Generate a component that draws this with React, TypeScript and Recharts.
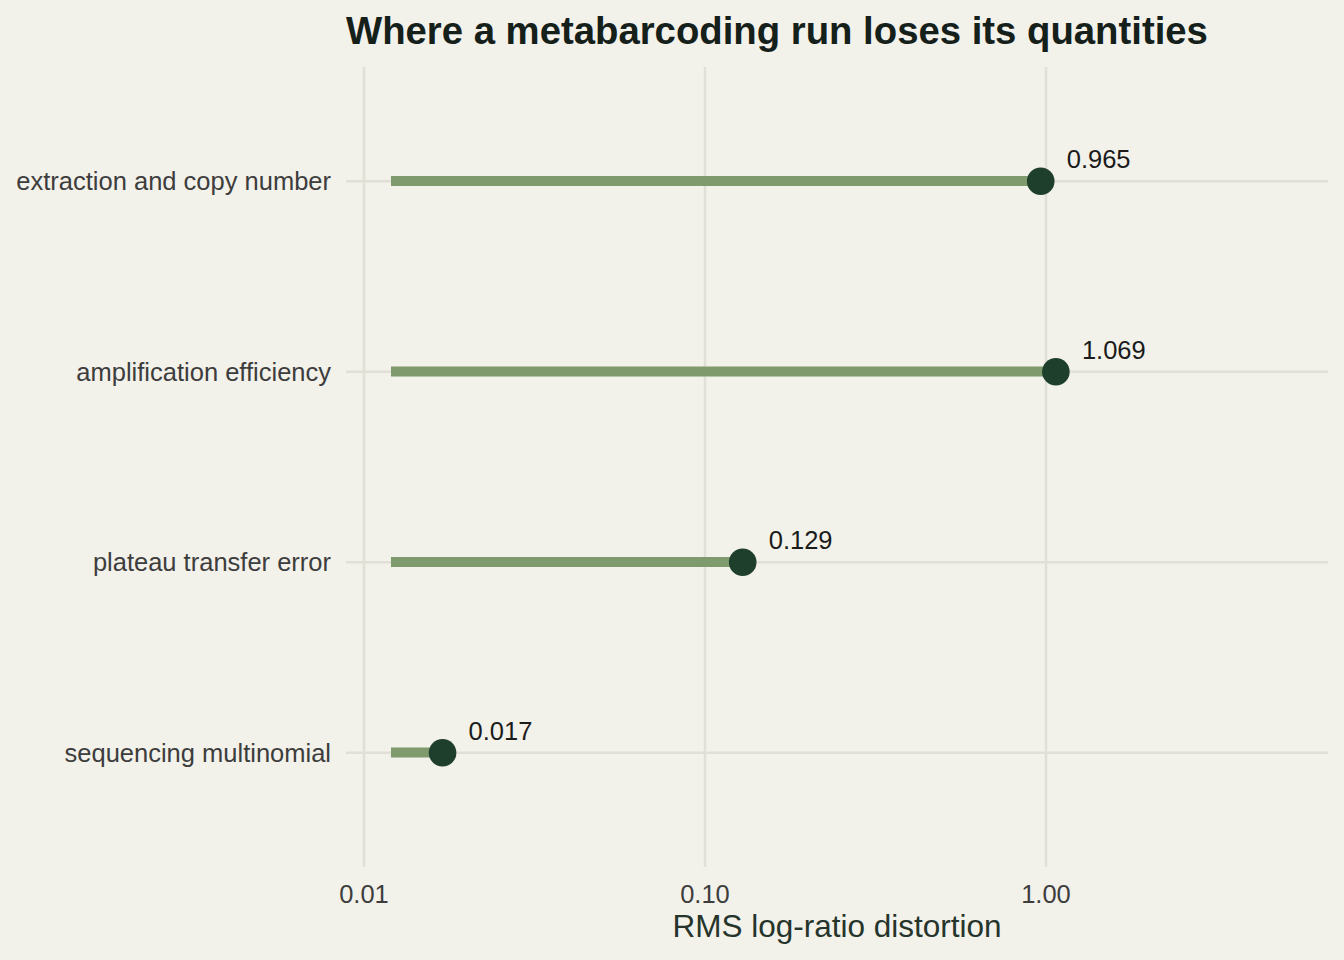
import React from "react";
import {
  Bar,
  CartesianGrid,
  ComposedChart,
  Label,
  LabelList,
  Line,
  XAxis,
  YAxis,
} from "recharts";

const stages = [
  "extraction and copy number",
  "amplification efficiency",
  "plateau transfer error",
  "sequencing multinomial",
];
const distortion = [0.965, 1.069, 0.129, 0.017];
const segmentStart = 0.012;
const xTicks = [0.01, 0.1, 1];

const data = stages.map((stage, i) => ({
  stage,
  value: distortion[i],
  range: [segmentStart, distortion[i]],
}));

const FONT = '"Liberation Sans", Arial, Helvetica, sans-serif';
const BG = "#f2f1ea";
const GRID = "#e1e0d6";
const SEGMENT = "#7f9a6c";
const POINT = "#1e3f2b";

function ValueLabel(props: any) {
  const { x, y, value } = props;
  return (
    <text
      x={x + 26}
      y={y - 13}
      fontSize={25.5}
      fontFamily={FONT}
      fill="#1b1b1b"
      textAnchor="start"
    >
      {Number(value).toFixed(3)}
    </text>
  );
}

export default function App() {
  return (
    <div
      style={{
        position: "absolute",
        left: 0,
        top: 0,
        width: 1344,
        height: 960,
        background: BG,
        fontFamily: FONT,
      }}
    >
      <div
        style={{
          position: "absolute",
          left: 346,
          top: 12,
          fontSize: 38.3,
          lineHeight: "38px",
          fontWeight: 700,
          color: "#15201a",
          whiteSpace: "nowrap",
        }}
      >
        Where a metabarcoding run loses its quantities
      </div>
      <ComposedChart
        width={1344}
        height={960}
        data={data}
        layout="vertical"
        margin={{ top: 67, right: 16, bottom: 0, left: 0 }}
      >
        <CartesianGrid stroke={GRID} strokeWidth={2.5} syncWithTicks />
        <XAxis
          type="number"
          scale="log"
          domain={[0.008856, 6.714]}
          ticks={xTicks}
          allowDataOverflow
          tickFormatter={(v: number) => v.toFixed(2)}
          axisLine={false}
          tickLine={false}
          tickSize={0}
          tickMargin={18}
          height={93}
          tick={{ fontSize: 25.5, fill: "#3d3d3d", fontFamily: FONT }}
        >
          <Label
            value="RMS log-ratio distortion"
            position="insideBottom"
            offset={23}
            style={{ fontSize: 31.5, fill: "#26352c", fontFamily: FONT }}
          />
        </XAxis>
        <YAxis
          type="category"
          dataKey="stage"
          width={346}
          axisLine={false}
          tickLine={false}
          tickSize={0}
          tickMargin={15}
          padding={{ top: 19, bottom: 19 }}
          tick={{ fontSize: 25.5, fill: "#3d3d3d", fontFamily: FONT }}
        />
        <Bar
          dataKey="range"
          barSize={10}
          fill={SEGMENT}
          isAnimationActive={false}
        />
        <Line
          dataKey="value"
          stroke="none"
          dot={{ r: 13.8, fill: POINT, stroke: "none" }}
          activeDot={false}
          isAnimationActive={false}
        >
          <LabelList dataKey="value" content={ValueLabel} />
        </Line>
      </ComposedChart>
    </div>
  );
}
